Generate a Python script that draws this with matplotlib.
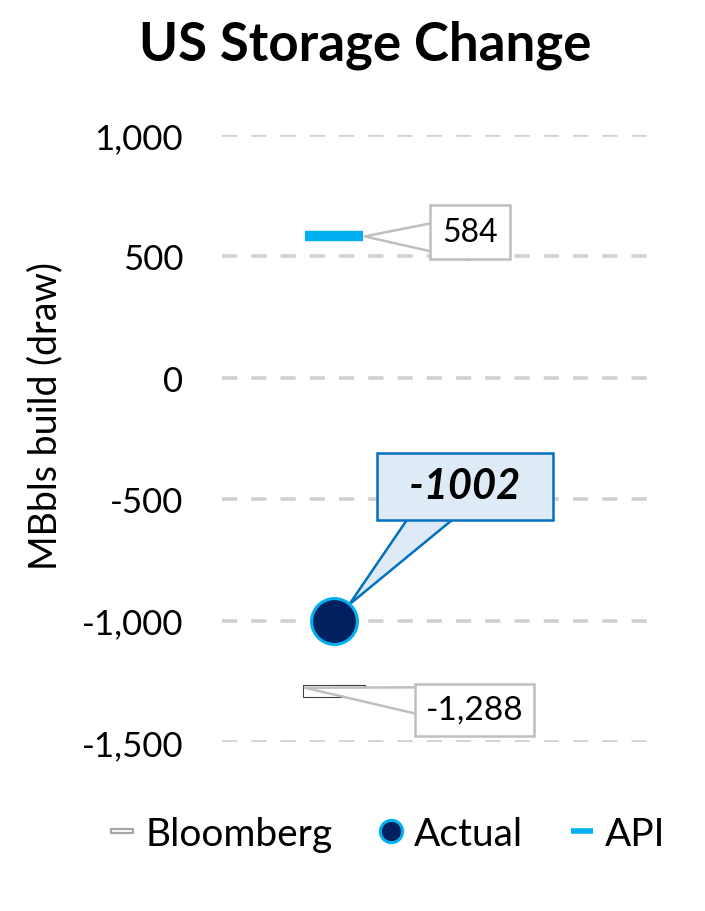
import matplotlib
matplotlib.use("Agg")
import matplotlib.pyplot as plt
import matplotlib.transforms as mtrans
from matplotlib.lines import Line2D
from matplotlib.path import Path
import numpy as np

# values
series = ["Bloomberg", "Actual", "API"]
values = [-1288, -1002, 584]
labels = ["-1,288", "-1002", "584"]
yticks = [-1500, -1000, -500, 0, 500, 1000]
ytick_labels = ["-1,500", "-1,000", "-500", "0", "500", "1,000"]

plt.rcParams['font.family'] = ['Lato', 'DejaVu Sans']

fig = plt.figure(figsize=[7.05, 9.12], dpi=100)
ax = fig.add_axes([0.315, 0.1853, 0.607, 0.6656])

# hollow flat rectangle for Bloomberg
rect = Path([(-1, -0.2), (1, -0.2), (1, 0.2), (-1, 0.2), (-1, -0.2)],
            [Path.MOVETO, Path.LINETO, Path.LINETO, Path.LINETO, Path.CLOSEPOLY])

x = 0
ax.plot([x], [values[0]], linestyle='', marker=rect, markersize=45,
        markerfacecolor='white', markeredgecolor='#404040', markeredgewidth=0.8, zorder=3)
ax.plot([x], [values[1]], linestyle='', marker='o', markersize=33,
        markerfacecolor='#002060', markeredgecolor='#00B0F0', markeredgewidth=2.2, zorder=4)
ax.plot([x], [values[2]], linestyle='', marker='_', markersize=42,
        markeredgecolor='#00B0F0', markeredgewidth=7.5, zorder=3)

ax.set_xlim(-0.2617, 0.7383)
ax.set_ylim(-1500, 1000)
ax.set_xticks([])
ax.set_yticks(yticks)
ax.set_yticklabels(ytick_labels, fontsize=25)
ax.tick_params(axis='y', length=0, pad=28)
for s in ax.spines.values():
    s.set_visible(False)
ax.grid(axis='y', color='#D0D0D0', linewidth=2.6, linestyle=(0, (4.2, 3.9)))
ax.set_axisbelow(True)

fig.text(45/705, 1-416/912, "MBbls build (draw)", rotation=90, ha='center', va='center', fontsize=27)
fig.text(365/705, 1-45/912, "US Storage Change", ha='center', va='center', fontsize=38, fontweight='bold')

# callouts (wedge starts inside the box, box drawn over its base)
ax.annotate(labels[2], xy=(x, values[2]), xytext=(98, 3), textcoords='offset points',
            ha='center', va='center', fontsize=23,
            bbox=dict(boxstyle='square,pad=0.38', fc='white', ec='#BFBFBF', lw=1.8),
            arrowprops=dict(arrowstyle='wedge,tail_width=1.4', fc='white', ec='#BFBFBF', lw=1.8,
                            patchA=None, shrinkA=0, shrinkB=22, relpos=(0.5, 0.3)))
ax.annotate("  " + labels[1] + "  ", xy=(x, values[1]), xytext=(94, 97), textcoords='offset points',
            ha='center', va='center', fontsize=30, fontweight='bold', fontstyle='italic',
            bbox=dict(boxstyle='square,pad=0.34', fc='#DEEBF7', ec='#0070C0', lw=1.8),
            arrowprops=dict(arrowstyle='wedge,tail_width=1.1', fc='#DEEBF7', ec='#0070C0', lw=1.8,
                            patchA=None, shrinkA=0, shrinkB=16, relpos=(0.45, 0.5)))
bl_tip = mtrans.offset_copy(ax.transData, fig=fig, x=-21, y=2, units='points')
ax.annotate(labels[0], xy=(x, values[0]), xycoords=bl_tip, xytext=(122, -16), textcoords='offset points',
            ha='center', va='center', fontsize=24,
            bbox=dict(boxstyle='square,pad=0.32', fc='white', ec='#BFBFBF', lw=1.8),
            arrowprops=dict(arrowstyle='wedge,tail_width=1.2', fc='white', ec='#BFBFBF', lw=1.8,
                            patchA=None, shrinkA=0, shrinkB=0, relpos=(0.5, 0.6)))

handles = [
    Line2D([], [], linestyle='', marker=rect, markersize=16.5, markerfacecolor='white',
           markeredgecolor='#A6A6A6', markeredgewidth=1.6),
    Line2D([], [], linestyle='', marker='o', markersize=16, markerfacecolor='#002060',
           markeredgecolor='#00B0F0', markeredgewidth=2.2),
    Line2D([], [], linestyle='', marker='_', markersize=16.5, markeredgecolor='#00B0F0',
           markeredgewidth=4),
]
fig.legend(handles, series, loc='center', bbox_to_anchor=(386/705, 1-835/912), ncol=3,
           frameon=False, fontsize=28, handlelength=0.8, handletextpad=0.2, columnspacing=1.1)

fig.savefig("out.png", dpi=100)
